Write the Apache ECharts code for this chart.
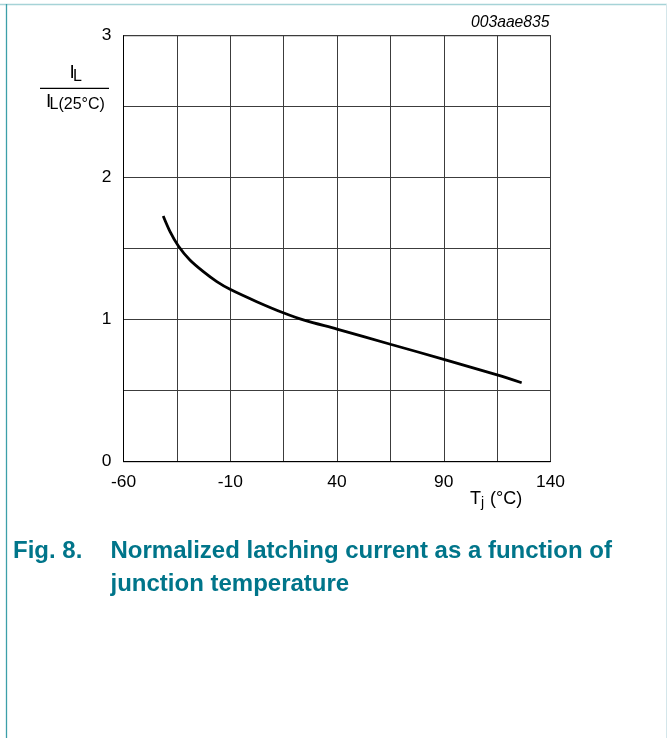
<!DOCTYPE html>
<html>
<head>
<meta charset="utf-8">
<script src="https://cdn.jsdelivr.net/npm/echarts@6/dist/echarts.min.js"></script>
<style>
html,body{margin:0;padding:0;background:#fff;}
#chart{width:667px;height:738px;}
</style>
</head>
<body>
<div id="chart"></div>
<script>
// Junction temperature (°C) and normalized latching current IL / IL(25°C)
const tempC = [-41.4, -38.2, -34.3, -28.9, -22.6, -16.3, -10.1, 2.4, 14.8, 25, 40, 65, 90, 115, 126.5];
const ratio = [1.73, 1.62, 1.519, 1.42, 1.338, 1.268, 1.214, 1.127, 1.049, 0.995, 0.934, 0.827, 0.721, 0.611, 0.556];
const xTickLabels = [-60, -10, 40, 90, 140];
const yTickLabels = [0, 1, 2, 3];

const FONT = '"Liberation Sans", Arial, Helvetica, sans-serif';
const TEAL = '#00758a';

const chart = echarts.init(document.getElementById('chart'), null, {renderer: 'canvas'});

const seriesData = tempC.map((t, i) => [t, ratio[i]]);

const option = {
  animation: false,
  backgroundColor: '#fff',
  grid: {
    left: 123.5, top: 35.7, width: 427, height: 426,
    show: true, borderColor: '#000', borderWidth: 1, backgroundColor: 'transparent'
  },
  xAxis: {
    type: 'value', min: -60, max: 140, interval: 25,
    axisLine: {show: true, onZero: false, lineStyle: {color: '#000', width: 1}},
    axisTick: {show: false},
    splitLine: {show: true, lineStyle: {color: '#3c3c3c', width: 1}},
    axisLabel: {
      margin: 12, color: '#000', fontSize: 17.4, fontFamily: FONT,
      formatter: v => xTickLabels.indexOf(v) >= 0 ? String(v) : ''
    }
  },
  yAxis: {
    type: 'value', min: 0, max: 3, interval: 0.5,
    axisLine: {show: true, onZero: false, lineStyle: {color: '#000', width: 1}},
    axisTick: {show: false},
    splitLine: {show: true, lineStyle: {color: '#3c3c3c', width: 1}},
    axisLabel: {
      margin: 12, color: '#000', fontSize: 17.4, fontFamily: FONT,
      formatter: v => yTickLabels.indexOf(v) >= 0 ? String(v) : ''
    }
  },
  series: [{
    type: 'line',
    data: seriesData,
    smooth: 0.3,
    showSymbol: false,
    lineStyle: {color: '#000', width: 2.8},
    z: 5
  }],
  graphic: [
    // frame lines
    {type: 'line', shape: {x1: 0, y1: 4.5, x2: 667, y2: 4.5}, style: {stroke: '#a6d3d7', lineWidth: 1.4}},
    {type: 'line', shape: {x1: 6.5, y1: 4, x2: 6.5, y2: 738}, style: {stroke: '#3c9fa9', lineWidth: 1.3}},
    {type: 'line', shape: {x1: 666.5, y1: 4, x2: 666.5, y2: 738}, style: {stroke: '#d4e6ea', lineWidth: 1}},
    // top-right code
    {type: 'text', style: {x: 549.5, y: 23, text: '003aae835', font: 'italic 15.7px ' + FONT, fill: '#000', align: 'right', verticalAlign: 'middle'}},
    // y axis name (fraction)
    {type: 'text', style: {x: 69.5, y: 73, text: 'I', font: '19px ' + FONT, fill: '#000', align: 'left', verticalAlign: 'middle'}},
    {type: 'text', style: {x: 73, y: 77, text: 'L', font: '16px ' + FONT, fill: '#000', align: 'left', verticalAlign: 'middle'}},
    {type: 'line', shape: {x1: 40, y1: 88.3, x2: 109, y2: 88.3}, style: {stroke: '#000', lineWidth: 1.3}},
    {type: 'text', style: {x: 46, y: 101.5, text: 'I', font: '19px ' + FONT, fill: '#000', align: 'left', verticalAlign: 'middle'}},
    {type: 'text', style: {x: 49.5, y: 105, text: 'L(25°C)', font: '16px ' + FONT, fill: '#000', align: 'left', verticalAlign: 'middle'}},
    // x axis name
    {type: 'text', style: {x: 470, y: 499, text: 'T', font: '18px ' + FONT, fill: '#000', align: 'left', verticalAlign: 'middle'}},
    {type: 'text', style: {x: 481, y: 503, text: 'j', font: '14px ' + FONT, fill: '#000', align: 'left', verticalAlign: 'middle'}},
    {type: 'text', style: {x: 485, y: 499, text: ' (°C)', font: '18px ' + FONT, fill: '#000', align: 'left', verticalAlign: 'middle'}},
    // caption
    {type: 'text', style: {x: 13, y: 551, text: 'Fig. 8.', font: 'bold 24px ' + FONT, fill: TEAL, align: 'left', verticalAlign: 'middle'}},
    {type: 'text', style: {x: 110.5, y: 551, text: 'Normalized latching current as a function of', font: 'bold 24px ' + FONT, fill: TEAL, align: 'left', verticalAlign: 'middle'}},
    {type: 'text', style: {x: 110.5, y: 584, text: 'junction temperature', font: 'bold 24px ' + FONT, fill: TEAL, align: 'left', verticalAlign: 'middle'}}
  ]
};

chart.setOption(option);
</script>
</body>
</html>
